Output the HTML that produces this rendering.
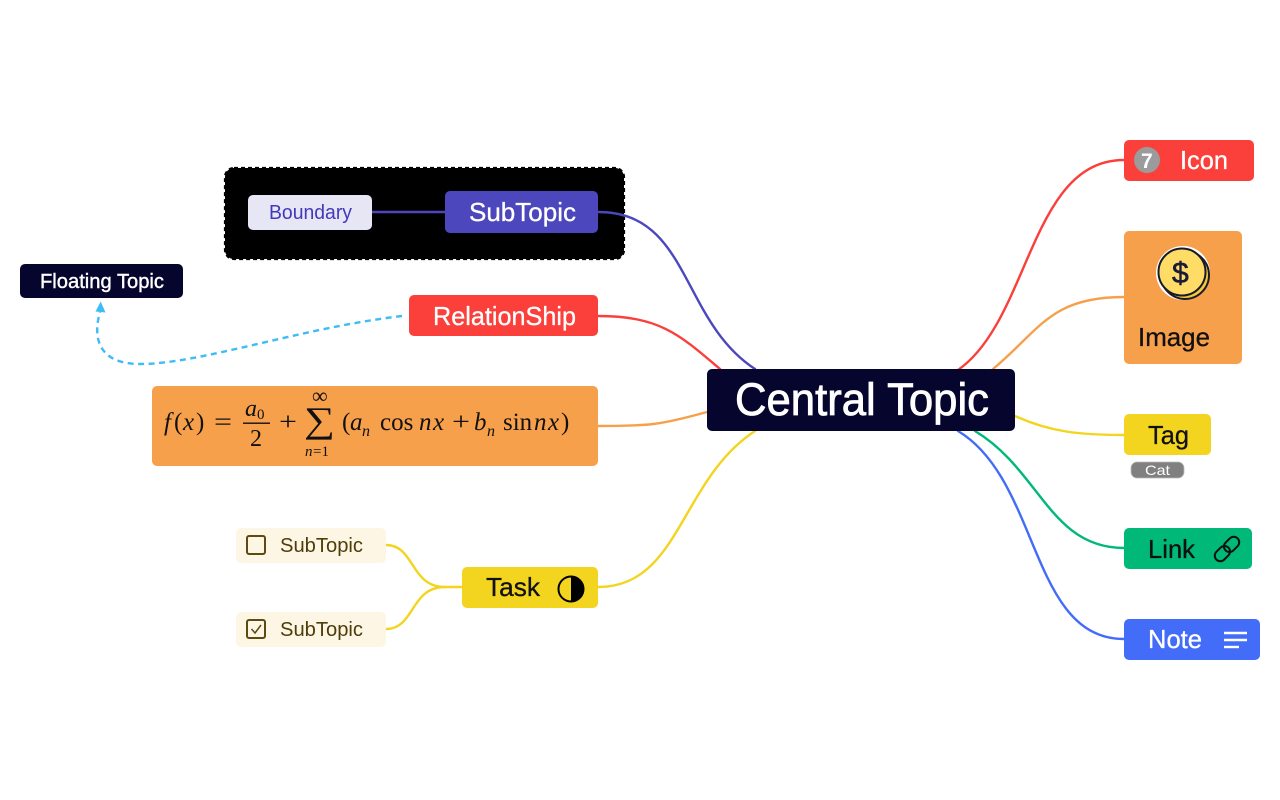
<!DOCTYPE html>
<html>
<head>
<meta charset="utf-8">
<style>
html,body{margin:0;padding:0;background:#fff;width:1280px;height:800px;overflow:hidden}
svg{display:block;position:absolute;left:0;top:0}
text{font-family:"Liberation Sans",sans-serif}
text.m{font-family:"Liberation Serif",serif;fill:#111}
.i{font-style:italic}
.w{stroke-width:.3}
</style>
</head>
<body>
<svg width="1280" height="800" viewBox="0 0 1280 800" xmlns="http://www.w3.org/2000/svg">
<rect width="1280" height="800" fill="#fff"/>

<!-- Boundary -->
<rect x="225" y="168" width="399" height="91" rx="9" fill="#000" stroke="#000" stroke-width="2.200" stroke-dasharray="4 3"/>

<!-- Connectors -->
<g fill="none" stroke-width="2.400" stroke-linecap="round">
<path d="M958 370C1030 320 1030 160 1124 160" stroke="#fb3f3a"/>
<path d="M993 369C1040 330 1050 297 1124 297" stroke="#f7a04b"/>
<path d="M1015 416C1050 432 1080 435 1124 435" stroke="#f3d41e"/>
<path d="M975 431C1040 470 1050 548 1124 548" stroke="#00b978"/>
<path d="M958 431C1040 480 1030 639 1124 639" stroke="#436cf8"/>
<path d="M372 212H445" stroke="#4c47bd"/>
<path d="M598 212C690 212 680 320 755 369" stroke="#4c47bd"/>
<path d="M598 316C660 316 680 335 720 369" stroke="#fb3f3a"/>
<path d="M598 426C650 426 660 425 707 412" stroke="#f7a04b"/>
<path d="M598 587C680 587 680 480 755 431" stroke="#f3d41e"/>
<path d="M386 545C415 545 410 587 445 587H462" stroke="#f3d41e"/>
<path d="M386 629C415 629 410 587 445 587" stroke="#f3d41e"/>
<path d="M402 316C300 328 200 364 140 364C100 364 92 340 100 312" stroke="#3fbcf5" stroke-dasharray="6 4.500" stroke-linecap="butt"/>
</g>
<path d="M100.700 301.500L95.500 311.500L105.500 312.500Z" fill="#3fbcf5"/>

<!-- Central -->
<rect x="707" y="369" width="308" height="62" rx="5" fill="#05052e"/>
<text x="735" y="415" font-size="45" fill="#fff" textLength="254" lengthAdjust="spacingAndGlyphs" stroke="#fff" stroke-width=".8">Central Topic</text>

<!-- Floating -->
<rect x="20" y="264" width="163" height="34" rx="5" fill="#05052e"/>
<text x="40" y="288" font-size="20" fill="#fff" textLength="124" lengthAdjust="spacingAndGlyphs" stroke="#fff" stroke-width=".4">Floating Topic</text>

<!-- Boundary topics -->
<rect x="248" y="195" width="124" height="35" rx="5" fill="#e7e6f4"/>
<text x="269" y="219" font-size="20" fill="#4139ba" textLength="83" lengthAdjust="spacingAndGlyphs">Boundary</text>
<rect x="445" y="191" width="153" height="42" rx="5" fill="#4c47bd"/>
<text x="469" y="221" font-size="26" fill="#fff" stroke="#fff" class="w" textLength="107" lengthAdjust="spacingAndGlyphs">SubTopic</text>

<!-- RelationShip -->
<rect x="409" y="295" width="189" height="41" rx="5" fill="#fb3f3a"/>
<text x="433" y="325" font-size="26" fill="#fff" stroke="#fff" class="w" textLength="143" lengthAdjust="spacingAndGlyphs">RelationShip</text>

<!-- Formula -->
<rect x="152" y="386" width="446" height="80" rx="5" fill="#f7a04b"/>
<g font-size="25">
<text class="m i" x="164" y="430">f</text>
<text class="m" x="174" y="430">(</text>
<text class="m i" x="183" y="430">x</text>
<text class="m" x="196" y="430">)</text>
<text class="m" x="214" y="430" textLength="18" lengthAdjust="spacingAndGlyphs">=</text>
<text class="m i" x="245" y="416" font-size="24">a</text>
<text class="m" x="257" y="419" font-size="15">0</text>
<rect x="243" y="422.500" width="27" height="1.400" fill="#111"/>
<text class="m" x="250" y="446" font-size="24">2</text>
<text class="m" x="279" y="430" textLength="18" lengthAdjust="spacingAndGlyphs">+</text>
<text class="m" x="304" y="432" font-size="36" textLength="31" lengthAdjust="spacingAndGlyphs">∑</text>
<text class="m" x="312" y="403" font-size="22">∞</text>
<text class="m i" x="305" y="456" font-size="15">n</text>
<text class="m" x="313" y="456" font-size="15">=1</text>
<text class="m" x="342" y="430">(</text>
<text class="m i" x="350" y="430">a</text>
<text class="m i" x="362" y="436" font-size="16">n</text>
<text class="m" x="380" y="430">cos</text>
<text class="m i" x="419" y="430">n</text>
<text class="m i" x="433" y="430">x</text>
<text class="m" x="452" y="430" textLength="18" lengthAdjust="spacingAndGlyphs">+</text>
<text class="m i" x="474" y="430">b</text>
<text class="m i" x="487" y="436" font-size="16">n</text>
<text class="m" x="503" y="430">sin</text>
<text class="m i" x="534" y="430">n</text>
<text class="m i" x="548" y="430">x</text>
<text class="m" x="561" y="430">)</text>
</g>

<!-- Task -->
<rect x="462" y="567" width="136" height="41" rx="5" fill="#f3d41e"/>
<text x="486" y="596" font-size="26" fill="#111" stroke="#111" class="w" textLength="54" lengthAdjust="spacingAndGlyphs">Task</text>
<circle cx="571" cy="589" r="12.500" fill="#f3d41e" stroke="#000" stroke-width="2"/>
<path d="M571 576.500A12.500 12.500 0 0 1 571 601.500Z" fill="#000"/>

<rect x="236" y="528" width="150" height="35" rx="5" fill="#fef6e5"/>
<rect x="247" y="536" width="18" height="18" rx="2" fill="none" stroke="#5c4a10" stroke-width="2"/>
<text x="280" y="552" font-size="20" fill="#4d3d08" textLength="83" lengthAdjust="spacingAndGlyphs">SubTopic</text>
<rect x="236" y="612" width="150" height="35" rx="5" fill="#fef6e5"/>
<rect x="247" y="620" width="18" height="18" rx="2" fill="none" stroke="#5c4a10" stroke-width="2"/>
<path d="M251.500 629L255 633L261 625" fill="none" stroke="#5c4a10" stroke-width="1.500"/>
<text x="280" y="636" font-size="20" fill="#4d3d08" textLength="83" lengthAdjust="spacingAndGlyphs">SubTopic</text>

<!-- Icon -->
<rect x="1124" y="140" width="130" height="41" rx="5" fill="#fb3f3a"/>
<circle cx="1147" cy="160" r="13" fill="#9b9b9b"/>
<text x="1141" y="168" font-size="21" font-weight="bold" fill="#fff">7</text>
<text x="1180" y="169" font-size="26" fill="#fff" stroke="#fff" class="w" textLength="48" lengthAdjust="spacingAndGlyphs">Icon</text>

<!-- Image -->
<rect x="1124" y="231" width="118" height="133" rx="5" fill="#f7a04b"/>
<circle cx="1183" cy="273" r="27" fill="#fff"/>
<circle cx="1185" cy="275" r="24" fill="#f3c93a" stroke="#1a1a2a" stroke-width="2"/>
<circle cx="1182" cy="272" r="23.500" fill="#ffdc66" stroke="#1a1a2a" stroke-width="2"/>
<text x="1172" y="283" font-size="30" fill="#1a1a3a" stroke="#1a1a3a" stroke-width=".6">$</text>
<text x="1138" y="346" font-size="26" fill="#111" stroke="#111" class="w" textLength="72" lengthAdjust="spacingAndGlyphs">Image</text>

<!-- Tag -->
<rect x="1124" y="414" width="87" height="41" rx="5" fill="#f3d41e"/>
<text x="1148" y="444" font-size="26" fill="#111" stroke="#111" class="w" textLength="41" lengthAdjust="spacingAndGlyphs">Tag</text>
<rect x="1131" y="462" width="53" height="16" rx="6" fill="#808080" stroke="#bbb" stroke-width=".8"/>
<text x="1145" y="475" font-size="14" fill="#fff" textLength="25" lengthAdjust="spacingAndGlyphs">Cat</text>

<!-- Link -->
<rect x="1124" y="528" width="128" height="41" rx="5" fill="#00b978"/>
<text x="1148" y="558" font-size="26" fill="#111" stroke="#111" class="w" textLength="47" lengthAdjust="spacingAndGlyphs">Link</text>
<g fill="none" stroke="#111" stroke-width="2" stroke-linecap="round" transform="rotate(-45 1227 549)">
<rect x="1212" y="543.500" width="17" height="11" rx="5.500"/>
<rect x="1225" y="543.500" width="17" height="11" rx="5.500"/>
</g>

<!-- Note -->
<rect x="1124" y="619" width="136" height="41" rx="5" fill="#436cf8"/>
<text x="1148" y="648" font-size="26" fill="#fff" stroke="#fff" class="w" textLength="54" lengthAdjust="spacingAndGlyphs">Note</text>
<g stroke="#fff" stroke-width="2.400">
<path d="M1224 633H1247"/>
<path d="M1224 640H1247"/>
<path d="M1224 647H1239"/>
</g>
</svg>
</body>
</html>
